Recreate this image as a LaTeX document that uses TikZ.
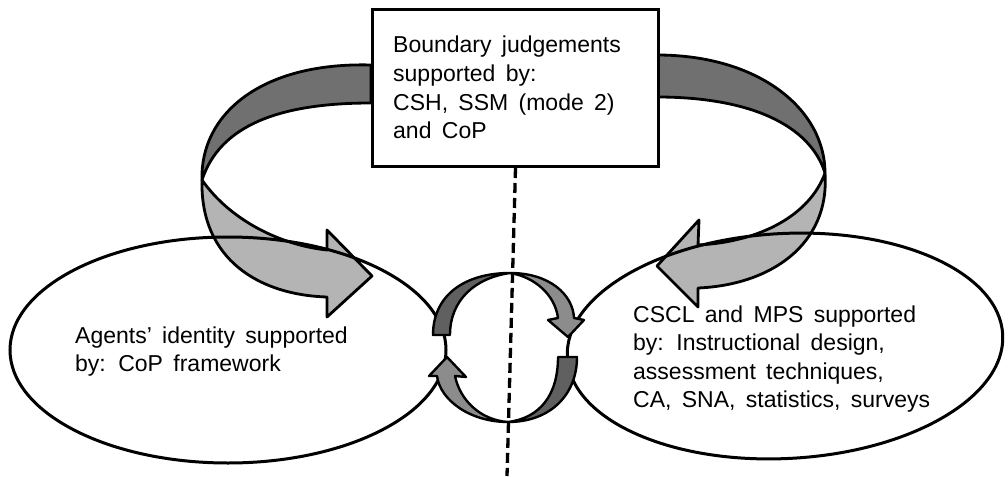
\documentclass[tikz,border=0pt]{standalone}
\usepackage{fontspec}
\setmainfont{Liberation Sans}
\usetikzlibrary{shapes.geometric}
\definecolor{bandDark}{RGB}{112,112,112}
\definecolor{bandLight}{RGB}{180,180,180}
\definecolor{ringDark}{RGB}{96,96,96}
\definecolor{ringLight}{RGB}{140,140,140}
\newcommand{\diagfont}{\fontsize{23}{28.6}\selectfont\spaceskip=0.45em\relax}
\begin{document}
\begin{tikzpicture}[x=1pt,y=-1pt,
  bandline/.style={draw=black, line width=2.8pt, line join=round},
  ringline/.style={draw=black, line width=2.4pt, line join=round},
  oval/.style={ellipse, draw=black, line width=3pt, inner sep=0pt},
  txt/.style={anchor=base west, inner sep=0pt, font=\diagfont, text=black},
  divider/.style={draw=black, line width=3.3pt, dash pattern=on 10pt off 5pt}]
\useasboundingbox (0,0) rectangle (1008,476);
% big left curved arrow
\draw[bandline, fill=bandDark] (371,65) .. controls (260,62) and (200,115) .. (202,180)
  .. controls (220,125) and (280,103) .. (371,103) -- cycle;
\draw[bandline, fill=bandLight] (202,180) .. controls (230,220) and (280,245) .. (327,250)
  -- (327,230) -- (372,276) -- (327,317) -- (327,297)
  .. controls (260,295) and (200,260) .. (202,180) -- cycle;
% big right curved arrow
\draw[bandline, fill=bandDark] (657,55) .. controls (760,55) and (825,110) .. (825,173)
  .. controls (810,125) and (750,97) .. (657,97) -- cycle;
\draw[bandline, fill=bandLight] (825,173) .. controls (810,215) and (760,242) .. (698,245)
  -- (699,220) -- (657,266) -- (698,307) -- (698,288)
  .. controls (770,285) and (830,245) .. (825,173) -- cycle;
% top box
\node[draw=black, fill=white, line width=3pt, inner sep=0pt, anchor=north west,
  minimum width=286pt, minimum height=157pt] (box) at (371,8) {};
\node[txt] (boxtext) at (393,53) {\vtop{\hbox{Boundary judgements}\hbox{supported by:}\hbox{CSH, SSM (mode 2)}\hbox{and CoP}}};
% ellipses
\node[oval, minimum width=436pt, minimum height=226pt] (agents) at (228,350) {};
\node[oval, minimum width=436pt, minimum height=225pt, rotate=3] (cscl) at (785,346) {};
\node[txt] (agentstext) at (75,343) {\vtop{\hbox{Agents’ identity supported}\hbox{by: CoP framework}}};
\node[txt] (cscltext) at (633,322) {\vtop{\hbox{CSCL and MPS supported}\hbox{by: Instructional design,}\hbox{assessment techniques,}\hbox{CA, SNA, statistics, surveys}}};
% central cycle
\draw[ringline, fill=ringDark] (433,335) .. controls (433,295) and (465,273) .. (510,273)
  .. controls (475,278) and (450,300) .. (450,335) -- cycle;
\draw[ringline, fill=ringLight] (510,273) .. controls (550,273) and (573,295) .. (574,318)
  -- (584,320) -- (568,337) -- (548,320) -- (558,318)
  .. controls (555,295) and (535,277) .. (510,273) -- cycle;
\draw[ringline, fill=ringDark] (577,357) .. controls (577,395) and (550,422) .. (508,422)
  .. controls (540,418) and (558,395) .. (558,357) -- cycle;
\draw[ringline, fill=ringLight] (508,422) .. controls (470,422) and (440,400) .. (437,376)
  -- (429,376) -- (447,357) -- (466,377) -- (455,376)
  .. controls (460,400) and (480,420) .. (508,422) -- cycle;
% dashed divider
\coordinate (dbot) at (507,476);
\draw[divider] (box.south) -- (dbot);
\end{tikzpicture}
\end{document}
